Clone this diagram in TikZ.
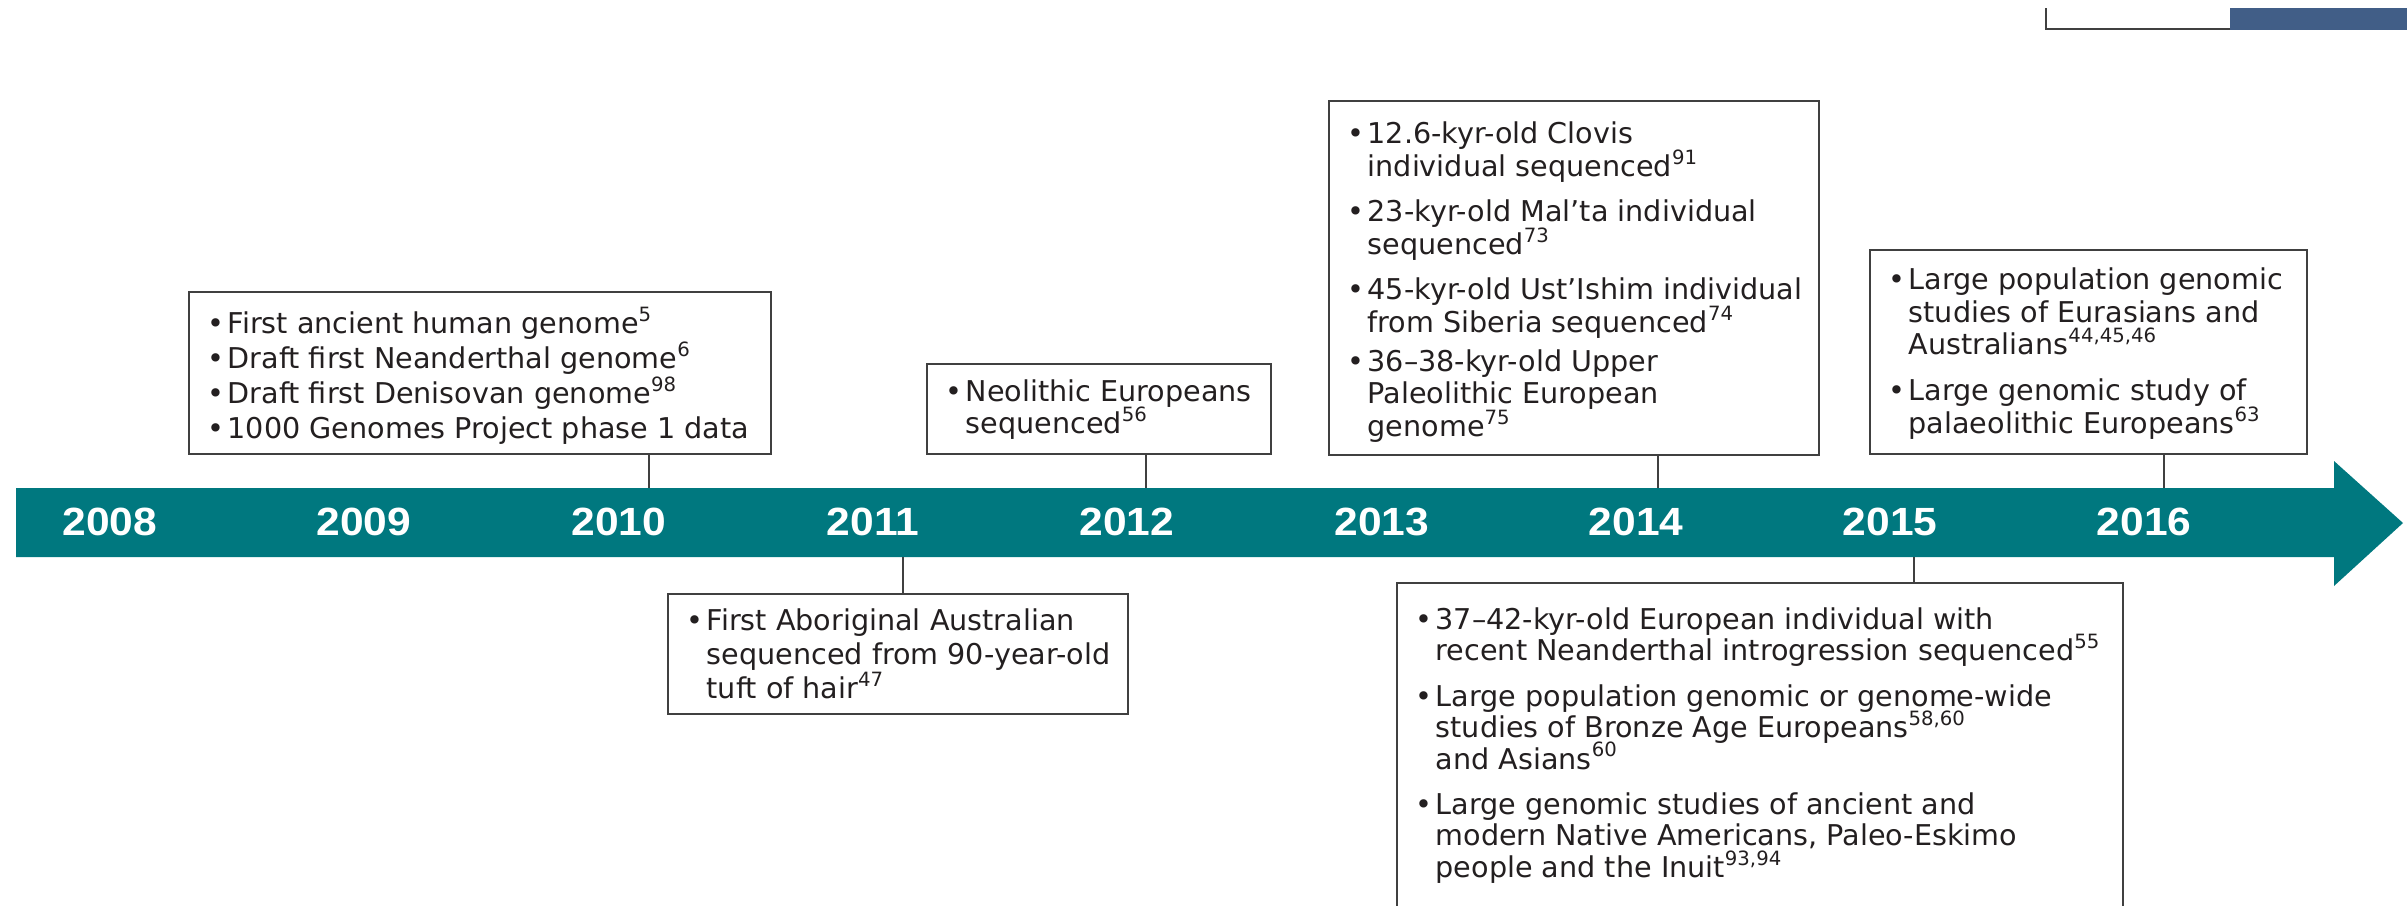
\documentclass[tikz,border=0pt]{standalone}
\usepackage{fontspec}
\setmainfont{DejaVu Sans}
\newfontfamily\yearfont[FakeStretch=1.08]{Liberation Sans}
\usetikzlibrary{fit}

\definecolor{bandteal}{RGB}{0,120,127}
\definecolor{boxgray}{RGB}{64,64,64}
\definecolor{inkgray}{RGB}{35,31,32}
\definecolor{tabblue}{RGB}{65,94,135}

\newcommand{\bul}{\makebox[2mm][l]{\textbullet}}
\newcommand{\ind}{\hspace*{2mm}}
\newcommand{\refsup}[1]{\smash{\raisebox{0.42em}{\fontsize{5.6}{6}\selectfont #1}}}

\begin{document}
\begin{tikzpicture}[x=0.1mm, y=-0.1mm,
    evbox/.style={draw=boxgray, line width=0.6pt, inner sep=0pt},
    evtext/.style={anchor=north west, align=left, inner sep=0pt, text=inkgray},
    yearlbl/.style={text=white, font=\yearfont\bfseries\fontsize{11.2}{12}\selectfont},
    conn/.style={draw=boxgray, line width=0.6pt}]

        \useasboundingbox (0,0) rectangle (2407,905);
        \clip (0,0) rectangle (2407,905);

        \draw[boxgray, line width=0.6pt] (2046,8) -- (2046,29) -- (2230,29);
        \fill[tabblue] (2230,8) rectangle (2407,30);

        \fill[bandteal] (16,488) -- (2334,488) -- (2334,461) -- (2403,523)
          -- (2334,586) -- (2334,557) -- (16,557) -- cycle;

        \begin{scope}[every node/.style={yearlbl}]
          \node (y2008) at (110,522)  {2008};
          \node (y2009) at (364,522)  {2009};
          \node (y2010) at (619,522)  {2010};
          \node (y2011) at (873,522)  {2011};
          \node (y2012) at (1127,522) {2012};
          \node (y2013) at (1382,522) {2013};
          \node (y2014) at (1636,522) {2014};
          \node (y2015) at (1890,522) {2015};
          \node (y2016) at (2144,522) {2016};
        \end{scope}

        \coordinate (t2010) at (649,488);
        \coordinate (t2011) at (903,557);
        \coordinate (t2012) at (1146,488);
        \coordinate (t2014) at (1658,488);
        \coordinate (t2015) at (1914,557);
        \coordinate (t2016) at (2164,488);

        \begin{scope}[every node/.style={evbox}]
          \node[fit={(189,292) (771,454)}]   (b2010) {};
          \node[fit={(668,594) (1128,714)}]  (b2011) {};
          \node[fit={(927,364) (1271,454)}]  (b2012) {};
          \node[fit={(1329,101) (1819,455)}] (b2014) {};
          \node[fit={(1397,583) (2123,960)}] (b2015) {};
          \node[fit={(1870,250) (2307,454)}] (b2016) {};
        \end{scope}

        \draw[conn] (b2010.south -| t2010) -- (t2010);
        \draw[conn] (t2011) -- (b2011.north -| t2011);
        \draw[conn] (b2012.south -| t2012) -- (t2012);
        \draw[conn] (b2014.south -| t2014) -- (t2014);
        \draw[conn] (t2015) -- (b2015.north -| t2015);
        \draw[conn] (b2016.south -| t2016) -- (t2016);

        \begin{scope}[every node/.style={evtext}]
          \node[font=\fontsize{8.15}{10}\selectfont] (x2010) at (207,311) {%
            \bul First ancient human genome\refsup{5}\\
            \bul Draft first Neanderthal genome\refsup{6}\\
            \bul Draft first Denisovan genome\refsup{98}\\
            \bul 1000 Genomes Project phase 1 data};
          \node[font=\fontsize{8.15}{9.7}\selectfont] (x2011) at (686,608) {%
            \bul First Aboriginal Australian\\
            \ind sequenced from 90-year-old\\
            \ind tuft of hair\refsup{47}};
          \node[font=\fontsize{8.15}{9.1}\selectfont] (x2012) at (945,379) {%
            \bul Neolithic Europeans\\
            \ind sequenced\refsup{56}};
          \node[font=\fontsize{8.15}{9.3}\selectfont] (x2014) at (1347,121) {%
            \bul 12.6-kyr-old Clovis\\
            \ind individual sequenced\refsup{91}\\[3.7pt]
            \bul 23-kyr-old Mal'ta individual\\
            \ind sequenced\refsup{73}\\[3.5pt]
            \bul 45-kyr-old Ust'Ishim individual\\
            \ind from Siberia sequenced\refsup{74}\\[1.8pt]
            \bul 36--38-kyr-old Upper\\
            \ind Paleolithic European\\
            \ind genome\refsup{75}};
          \node[font=\fontsize{8.15}{8.9}\selectfont] (x2015) at (1415,607) {%
            \bul 37--42-kyr-old European individual with\\
            \ind recent Neanderthal introgression sequenced\refsup{55}\\[4.1pt]
            \bul Large population genomic or genome-wide\\
            \ind studies of Bronze Age Europeans\refsup{58,60}\\
            \ind and Asians\refsup{60}\\[4.1pt]
            \bul Large genomic studies of ancient and\\
            \ind modern Native Americans, Paleo-Eskimo\\
            \ind people and the Inuit\refsup{93,94}};
          \node[font=\fontsize{8.15}{9.3}\selectfont] (x2016) at (1888,267) {%
            \bul Large population genomic\\
            \ind studies of Eurasians and\\
            \ind Australians\refsup{44,45,46}\\[3.7pt]
            \bul Large genomic study of\\
            \ind palaeolithic Europeans\refsup{63}};
        \end{scope}

      \end{tikzpicture}
\end{document}
